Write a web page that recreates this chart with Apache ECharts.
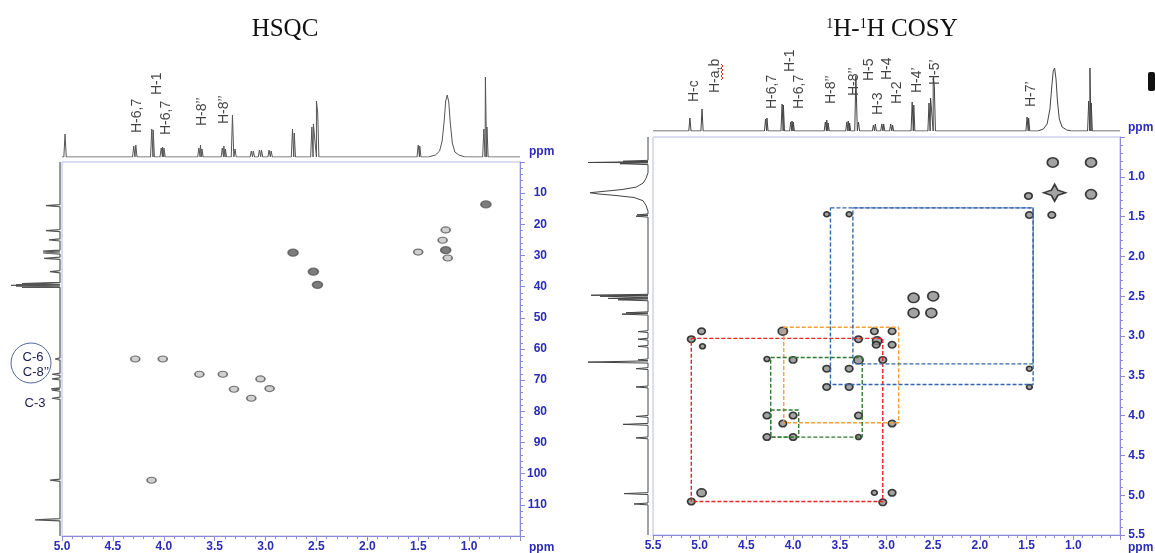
<!DOCTYPE html>
<html>
<head>
<meta charset="utf-8">
<script src="https://cdn.jsdelivr.net/npm/echarts@6/dist/echarts.min.js"></script>
<style>
  html, body { margin: 0; padding: 0; background: #fff; }
  #chart { width: 1155px; height: 553px; }
</style>
</head>
<body>
<div id="chart"></div>
<script>
// ---------------- HSQC ----------------
// cross peaks: [1H ppm, 13C ppm, contour level]
const hsqcPeaks = [
  [0.835, 13.6, 2], [1.23, 21.8, 1], [1.26, 25.1, 1], [1.50, 28.9, 1],
  [1.23, 28.3, 2], [1.21, 30.8, 1], [2.73, 29.1, 2], [2.53, 35.2, 2],
  [2.49, 39.4, 2], [4.28, 63.2, 1], [4.01, 63.2, 1], [3.65, 68.1, 1],
  [3.42, 68.1, 1], [3.05, 69.6, 1], [3.31, 72.9, 1], [2.96, 72.7, 1],
  [3.14, 75.8, 1], [4.12, 102.1, 1]
];
// 1H projection lines: [ppm, intensity]
const hsqcProton = [
  [4.97, 23], [4.295, 11], [4.275, 12], [4.118, 28], [4.104, 27],
  [4.025, 9], [4.012, 10], [3.998, 9], [3.655, 9], [3.64, 12], [3.625, 8],
  [3.425, 9], [3.41, 11], [3.395, 8], [3.325, 42], [3.30, 8],
  [3.14, 6], [3.12, 6], [3.06, 7], [3.04, 7], [2.965, 7], [2.945, 6],
  [2.735, 28], [2.718, 24], [2.545, 30], [2.53, 33], [2.50, 56], [2.488, 45],
  [1.50, 12], [1.485, 11], [0.855, 28], [0.84, 80], [0.825, 30]
];
// broad methylene envelope, traced point by point
const hsqcProtonBroad = [
  [1.40, 0], [1.33, 2], [1.29, 6], [1.265, 16], [1.245, 36], [1.23, 56],
  [1.215, 62], [1.20, 55], [1.185, 34], [1.165, 14], [1.14, 5], [1.10, 2], [1.04, 0]
];
// 13C projection lines: [ppm, intensity]
const hsqcCarbon = [
  [14.0, 14], [22.0, 14], [25.0, 11], [28.6, 17], [29.2, 17], [30.9, 16],
  [35.2, 10], [39.0, 38], [39.3, 44], [39.6, 49], [39.9, 44], [40.2, 38],
  [63.2, 5], [68.1, 8], [69.6, 8], [72.8, 9], [73.2, 8], [75.8, 8],
  [102.1, 10], [114.8, 25]
];
// peak assignments above the 1H trace: [text, ppm, height]
const hsqcLabels = [
  ['H-6,7', 4.26, 24], ['H-1', 4.07, 62], ['H-6,7', 3.98, 22],
  ['H-8’’', 3.62, 31], ['H-8’’', 3.41, 33]
];
const carbonLabels = ['C-6', 'C-8’’', 'C-3'];
const hsqcXTicks = [5.0, 4.5, 4.0, 3.5, 3.0, 2.5, 2.0, 1.5, 1.0];
const hsqcYTicks = [10, 20, 30, 40, 50, 60, 70, 80, 90, 100, 110];

// ---------------- COSY ----------------
// cross / diagonal peaks: [F2 ppm, F1 ppm, contour level]
const cosyPeaks = [
  [1.22, 0.82, 2], [0.81, 0.82, 2], [1.20, 1.20, 3], [0.81, 1.22, 2],
  [1.48, 1.24, 1], [1.47, 1.48, 1], [1.23, 1.48, 1], [3.64, 1.47, 0.5], [3.40, 1.47, 0.5],
  [2.71, 2.52, 2], [2.50, 2.50, 2], [2.71, 2.71, 2], [2.52, 2.71, 2],
  [4.98, 2.94, 1], [4.11, 2.94, 1.5], [5.09, 3.04, 1], [4.97, 3.13, 0.5],
  [3.13, 2.94, 1], [2.94, 2.94, 1], [3.30, 3.04, 1], [3.10, 3.06, 1.5],
  [3.11, 3.11, 1], [2.94, 3.11, 1], [4.28, 3.29, 0.5], [4.00, 3.30, 1],
  [3.30, 3.30, 1.5], [3.04, 3.30, 1], [3.64, 3.41, 1], [3.40, 3.41, 1],
  [1.47, 3.41, 0.5], [3.64, 3.64, 1], [3.40, 3.64, 1], [1.47, 3.64, 0.5],
  [4.28, 4.00, 1], [4.00, 4.00, 1], [3.30, 4.00, 1], [4.11, 4.10, 1],
  [2.94, 4.10, 1], [4.28, 4.27, 1], [4.00, 4.27, 1], [3.30, 4.27, 0.5],
  [4.98, 4.97, 1.5], [5.09, 5.08, 1], [3.13, 4.97, 0.5], [2.94, 4.97, 1],
  [3.04, 5.09, 1]
];
// coupling squares: [F2 from, F2 to, F1 from, F1 to]
const cosyBoxes = [
  [5.09, 3.04, 3.03, 5.08],
  [4.10, 2.87, 2.89, 4.09],
  [4.24, 3.26, 3.27, 4.27],
  [4.24, 3.94, 3.93, 4.27],
  [3.60, 1.43, 1.39, 3.61],
  [3.36, 1.43, 1.39, 3.35]
];
const cosyTop = [
  [5.115, 12], [5.105, 13], [4.985, 24], [4.975, 22],
  [4.295, 12], [4.28, 13], [4.118, 27], [4.104, 26],
  [4.025, 9], [4.012, 10], [3.998, 9], [3.655, 9], [3.64, 11], [3.625, 8],
  [3.425, 9], [3.41, 10], [3.395, 8], [3.328, 55], [3.30, 9],
  [3.14, 6], [3.12, 7], [3.05, 7], [3.03, 7], [2.955, 7], [2.935, 6],
  [2.725, 29], [2.708, 26], [2.545, 28], [2.528, 33], [2.50, 53], [2.488, 45],
  [1.495, 14], [1.478, 13], [0.835, 30], [0.822, 63], [0.808, 28]
];
const cosyTopBroad = [
  [1.38, 0], [1.32, 2], [1.28, 7], [1.25, 22], [1.23, 45], [1.215, 60],
  [1.20, 63], [1.185, 52], [1.17, 30], [1.15, 12], [1.12, 4], [1.07, 1], [1.02, 0]
];
const cosyLeft = [
  [0.805, 25], [0.82, 60], [0.835, 28], [1.478, 11], [1.495, 12],
  [2.488, 57], [2.50, 48], [2.528, 40], [2.545, 30], [2.708, 22], [2.725, 26],
  [2.945, 10], [3.04, 10], [3.13, 10], [3.30, 10], [3.328, 60],
  [3.41, 12], [3.64, 12], [4.01, 12], [4.11, 25], [4.28, 12],
  [4.98, 24], [5.11, 14]
];
const cosyLeftBroad = [
  [0.95, 0], [1.02, 2], [1.08, 5], [1.13, 12], [1.16, 26], [1.185, 46],
  [1.20, 58], [1.215, 50], [1.235, 32], [1.26, 14], [1.30, 5], [1.36, 2], [1.43, 0]
];
const cosyLabels = [
  ['H-c', 5.055, 29], ['H-a,b', 4.84, 38], ['H-6,7', 4.22, 22], ['H-1', 4.03, 59],
  ['H-6,7', 3.94, 22], ['H-8’’', 3.59, 27], ['H-8’’', 3.35, 35], ['H-5', 3.19, 50],
  ['H-3', 3.09, 16], ['H-4', 2.99, 51], ['H-2', 2.89, 27], ['H-4’', 2.67, 38],
  ['H-5’', 2.48, 46], ['H-7’', 1.45, 24]
];
const cosyTicks = [5.5, 5.0, 4.5, 4.0, 3.5, 3.0, 2.5, 2.0, 1.5, 1.0];

// ---------------- helpers ----------------
const SANS = '"Liberation Sans", Arial, sans-serif';
const AXIS = '#8a8ad8';
const TICKTXT = '#2b2bb8';
const BOX_COLORS = ['#ee2222', '#f5a033', '#2e7a2e', '#2e7a2e', '#3466aa', '#3466aa'];
const STAR = 'path://M0,-10 L3,-3 L10,0 L3,3 L0,10 L-3,3 L-10,0 L-3,-3 Z';

// turn a list of lines into a trace: each line rises from baseline to its height
function trace(lines, profile, halfWidth, lo, hi) {
  const pts = [[lo, 0], [hi, 0]];
  lines.forEach(([p, h]) => { pts.push([p - halfWidth, 0], [p, h], [p + halfWidth, 0]); });
  profile.forEach(pt => pts.push(pt));
  pts.sort((a, b) => a[0] - b[0]);
  return pts;
}
const swap = pts => pts.map(([p, v]) => [v, p]);
const tickFmt = (ticks, dec) => v => ticks.some(t => Math.abs(t - v) < 1e-6) ? v.toFixed(dec) : '';

function valueAxis(extra) {
  return Object.assign({
    type: 'value',
    axisLine: { show: true, onZero: false, lineStyle: { color: AXIS, width: 1 } },
    axisTick: { show: true, length: 5, lineStyle: { color: AXIS } },
    minorTick: { show: true, splitNumber: 5, length: 3, lineStyle: { color: AXIS } },
    splitLine: { show: false },
    axisLabel: { color: TICKTXT, fontWeight: 'bold', fontSize: 12, fontFamily: SANS }
  }, extra);
}
const hidden = extra => Object.assign({ type: 'value', show: false, splitLine: { show: false } }, extra);

function labelSeries(xi, yi, items) {
  return {
    type: 'scatter', xAxisIndex: xi, yAxisIndex: yi, symbolSize: 1, silent: true,
    itemStyle: { color: 'transparent' },
    label: {
      show: true, position: 'inside', rotate: 90, align: 'left', verticalAlign: 'middle',
      formatter: p => p.data.name, color: '#111', fontSize: 14, fontFamily: SANS
    },
    data: items.map(([t, p, h]) => ({ name: t, value: [p, h] }))
  };
}

const chart = echarts.init(document.getElementById('chart'), null, { renderer: 'canvas' });

const grids = [
  { left: 62, top: 162, width: 458, height: 374 },   // 0 HSQC 2D
  { left: 62, top: 57, width: 458, height: 100 },    // 1 HSQC 1H trace
  { left: 8, top: 162, width: 52, height: 374 },     // 2 HSQC 13C trace
  { left: 653, top: 137, width: 467, height: 398 },  // 3 COSY 2D
  { left: 653, top: 40, width: 467, height: 91 },    // 4 COSY top trace
  { left: 585, top: 137, width: 63, height: 398 }    // 5 COSY left trace
].map((g, i) => Object.assign({ outerBoundsMode: 'none', containLabel: false,
  show: i === 0 || i === 3, borderColor: '#b8b8e8', borderWidth: 1 }, g));

const option = {
  animation: false,
  backgroundColor: '#fff',
  title: [
    { text: 'HSQC', left: 280, top: 12, textAlign: 'center',
      textStyle: { fontFamily: '"Liberation Serif", "Times New Roman", serif', fontSize: 25, fontWeight: 'normal', color: '#111' } },
    { text: '{s|1}H-{s|1}H COSY', left: 887, top: 12, textAlign: 'center',
      textStyle: { fontFamily: '"Liberation Serif", "Times New Roman", serif', fontSize: 25, fontWeight: 'normal', color: '#111',
        rich: { s: { fontFamily: '"Liberation Serif", serif', fontSize: 14, verticalAlign: 'top', padding: [0, 0, 10, 0], color: '#111' } } } }
  ],
  grid: grids,
  xAxis: [
    valueAxis({ gridIndex: 0, inverse: true, min: 0.5, max: 5.0, interval: 0.5, position: 'bottom',
      axisLabel: { margin: 5, color: TICKTXT, fontWeight: 'bold', fontSize: 12, fontFamily: SANS, formatter: tickFmt(hsqcXTicks, 1) } }),
    hidden({ gridIndex: 1, inverse: true, min: 0.5, max: 5.0 }),
    hidden({ gridIndex: 2, inverse: true, min: 0, max: 52 }),
    valueAxis({ gridIndex: 3, inverse: true, min: 0.5, max: 5.5, interval: 0.5, position: 'bottom',
      axisLabel: { margin: 5, color: TICKTXT, fontWeight: 'bold', fontSize: 12, fontFamily: SANS, formatter: tickFmt(cosyTicks, 1) } }),
    hidden({ gridIndex: 4, inverse: true, min: 0.5, max: 5.5 }),
    hidden({ gridIndex: 5, inverse: true, min: 0, max: 63 })
  ],
  yAxis: [
    valueAxis({ gridIndex: 0, inverse: true, min: 0, max: 120, interval: 10, position: 'right',
      axisLabel: { margin: 27, align: 'right', color: TICKTXT, fontWeight: 'bold', fontSize: 12, fontFamily: SANS, formatter: tickFmt(hsqcYTicks, 0) } }),
    hidden({ gridIndex: 1, min: 0, max: 100 }),
    hidden({ gridIndex: 2, inverse: true, min: 0, max: 120 }),
    valueAxis({ gridIndex: 3, inverse: true, min: 0.5, max: 5.5, interval: 0.5, position: 'right',
      axisLabel: { margin: 25, align: 'right', color: TICKTXT, fontWeight: 'bold', fontSize: 12, fontFamily: SANS, formatter: tickFmt(cosyTicks, 1) } }),
    hidden({ gridIndex: 4, min: 0, max: 91 }),
    hidden({ gridIndex: 5, inverse: true, min: 0.5, max: 5.5 })
  ],
  series: [
    // HSQC cross peaks
    { type: 'scatter', xAxisIndex: 0, yAxisIndex: 0, silent: true,
      symbolSize: v => v[2] > 1 ? [10, 7] : [9, 6],
      itemStyle: { color: p => p.data[2] > 1 ? '#5c5c5c' : '#c4c4c4', borderColor: '#555', borderWidth: 1.4 },
      data: hsqcPeaks },
    // HSQC 1H trace
    { type: 'line', xAxisIndex: 1, yAxisIndex: 1, symbol: 'none', silent: true,
      lineStyle: { color: '#555', width: 1 }, data: trace(hsqcProton, hsqcProtonBroad, 0.012, 0.5, 5.0) },
    labelSeries(1, 1, hsqcLabels),
    // HSQC 13C trace
    { type: 'line', xAxisIndex: 2, yAxisIndex: 2, symbol: 'none', silent: true,
      lineStyle: { color: '#555', width: 1.2 }, data: swap(trace(hsqcCarbon, [], 0.35, 0, 120)) },
    // COSY squares
    ...cosyBoxes.map(([x1, x2, y1, y2], i) => ({
      type: 'line', xAxisIndex: 3, yAxisIndex: 3, symbol: 'none', silent: true,
      lineStyle: { color: BOX_COLORS[i], width: 1.4, type: [4, 2] },
      data: [[x1, y1], [x2, y1], [x2, y2], [x1, y2], [x1, y1]]
    })),
    // COSY peaks
    { type: 'scatter', xAxisIndex: 3, yAxisIndex: 3, silent: true,
      symbol: v => v[2] >= 3 ? STAR : 'circle',
      symbolSize: v => v[2] >= 3 ? [22, 17] : [4 + v[2] * 3.5, 3.5 + v[2] * 3],
      itemStyle: { color: '#8c8c8c', borderColor: '#111', borderWidth: 1.6 },
      data: cosyPeaks },
    // COSY top trace
    { type: 'line', xAxisIndex: 4, yAxisIndex: 4, symbol: 'none', silent: true,
      lineStyle: { color: '#444', width: 1 }, data: trace(cosyTop, cosyTopBroad, 0.012, 0.5, 5.5) },
    labelSeries(4, 4, cosyLabels),
    // COSY left trace
    { type: 'line', xAxisIndex: 5, yAxisIndex: 5, symbol: 'none', silent: true,
      lineStyle: { color: '#444', width: 1 }, data: swap(trace(cosyLeft, cosyLeftBroad, 0.012, 0.5, 5.5)) }
  ],
  graphic: [
    { type: 'text', left: 529, top: 146, style: { text: 'ppm', fill: TICKTXT, font: 'bold 12px ' + SANS } },
    { type: 'text', left: 529, top: 542, style: { text: 'ppm', fill: TICKTXT, font: 'bold 12px ' + SANS } },
    { type: 'text', left: 1128, top: 122, style: { text: 'ppm', fill: TICKTXT, font: 'bold 12px ' + SANS } },
    { type: 'text', left: 1128, top: 542, style: { text: 'ppm', fill: TICKTXT, font: 'bold 12px ' + SANS } },
    { type: 'ellipse', shape: { cx: 31, cy: 363, rx: 20, ry: 20 }, style: { fill: 'none', stroke: '#55699a', lineWidth: 1 } },
    { type: 'text', x: 33, y: 357, style: { text: carbonLabels[0], fill: '#1a1a4a', font: '13px ' + SANS, align: 'center', verticalAlign: 'middle' } },
    { type: 'text', x: 36, y: 372, style: { text: carbonLabels[1], fill: '#1a1a4a', font: '13px ' + SANS, align: 'center', verticalAlign: 'middle' } },
    { type: 'text', x: 35, y: 403, style: { text: carbonLabels[2], fill: '#1a1a4a', font: '13px ' + SANS, align: 'center', verticalAlign: 'middle' } },
    { type: 'polyline', shape: { points: [[721, 64], [723, 66], [721, 68], [723, 70], [721, 72], [723, 74], [721, 76], [723, 78], [721, 80]] },
      style: { stroke: '#e02020', lineWidth: 1, fill: 'none' } },
    { type: 'rect', shape: { x: 1148, y: 72, width: 7, height: 19, r: 2 }, style: { fill: '#111' } }
  ]
};
chart.setOption(option);
</script>
</body>
</html>
